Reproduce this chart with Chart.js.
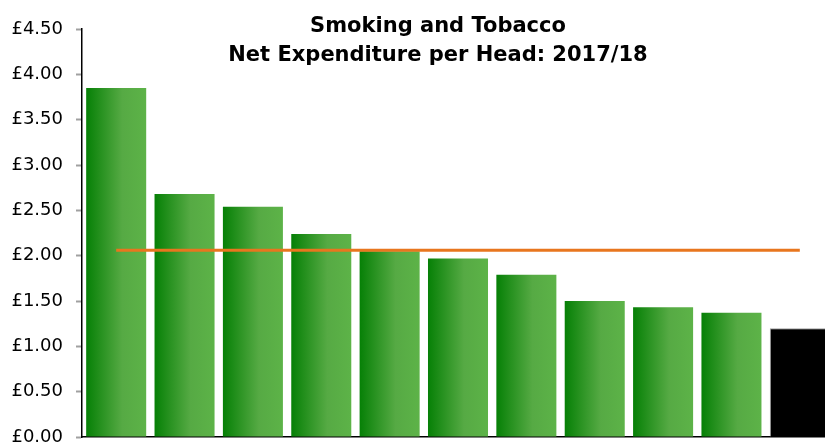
<!DOCTYPE html>
<html>
<head>
<meta charset="utf-8">
<script src="https://cdn.jsdelivr.net/npm/chart.js@4/dist/chart.umd.min.js"></script>
<style>
  html, body { margin: 0; padding: 0; background: #fff; overflow: hidden; }
  #wrap { width: 834px; height: 444px; position: relative; }
</style>
</head>
<body>
<div id="wrap"><canvas id="chart"></canvas></div>
<script>
// datos
const categorias = ["A", "B", "C", "D", "E", "F", "G", "H", "I", "J", "K"];
const gastoPorCabeza = [3.85, 2.68, 2.54, 2.24, 2.05, 1.97, 1.79, 1.50, 1.43, 1.37, 1.20];
const promedio = 2.06;
const tituloLineas = ["Smoking and Tobacco", "Net Expenditure per Head: 2017/18"];

const FONT = "'DejaVu Sans', Verdana, sans-serif";

// degradado horizontal por barra (verde oscuro -> verde claro); la última negra
function colorBarra(ctx) {
    const i = ctx.dataIndex;
    if (i === gastoPorCabeza.length - 1) return "#000000";
    const chart = ctx.chart;
    const x = chart.scales.x;
    if (!x || x.width === undefined) return "#2f9a2a";
    const ancho = (x.width / categorias.length) * 0.878;
    const cx = x.getPixelForValue(i);
    const g = chart.ctx.createLinearGradient(cx - ancho / 2, 0, cx + ancho / 2, 0);
    g.addColorStop(0, "#068006");
    g.addColorStop(0.6, "#56aa44");
    g.addColorStop(1, "#5db348");
    return g;
}

// título dibujado encima del área del gráfico
const tituloPlugin = {
    id: "tituloPlugin",
    afterDraw(chart) {
        const c = chart.ctx;
        c.save();
        c.fillStyle = "#000";
        c.font = "bold 21px " + FONT;
        c.textAlign = "center";
        c.textBaseline = "alphabetic";
        c.fillText(tituloLineas[0], 438, 32);
        c.fillText(tituloLineas[1], 438, 61);
        c.restore();
    }
};

new Chart(document.getElementById("chart"), {
    data: {
        labels: categorias,
        datasets: [
            {
                type: "line",
                label: "Promedio",
                data: categorias.map(() => promedio),
                borderColor: "#e8761e",
                borderWidth: 3,
                pointRadius: 0,
                fill: false,
                order: 0
            },
            {
                type: "bar",
                label: "Gasto",
                data: gastoPorCabeza,
                backgroundColor: colorBarra,
                borderColor: gastoPorCabeza.map((_, i) => i === gastoPorCabeza.length - 1 ? "#a0a0a0" : "rgba(0,0,0,0)"),
                borderWidth: gastoPorCabeza.map((_, i) => i === gastoPorCabeza.length - 1 ? 1 : 0),
                borderSkipped: "bottom",
                barPercentage: 0.878,
                categoryPercentage: 1,
                order: 1
            }
        ]
    },
    options: {
        responsive: true,
        maintainAspectRatio: false,
        animation: false,
        layout: { padding: { top: 29, right: 0, bottom: 7, left: 0 } },
        plugins: {
            legend: { display: false },
            title: { display: false },
            tooltip: { enabled: false }
        },
        scales: {
            x: {
                afterFit(scale) { scale.height = 0; scale.paddingLeft = 0; scale.paddingRight = 0; },
                ticks: { display: false },
                grid: { display: false, drawTicks: false },
                border: { display: true, color: "#000", width: 1.5 }
            },
            y: {
                min: 0,
                max: 4.5,
                afterFit(scale) {
                    scale.width = 82;
                    scale.paddingTop = 0;
                    scale.paddingBottom = 0;
                },
                ticks: {
                    stepSize: 0.5,
                    padding: 13,
                    color: "#000",
                    font: { family: FONT, size: 18 },
                    callback: (v) => "£" + Number(v).toFixed(2)
                },
                grid: {
                    drawOnChartArea: false,
                    drawTicks: true,
                    tickLength: 6,
                    tickColor: "#a0a0a0",
                    tickWidth: 2
                },
                border: { display: true, color: "#000", width: 1.5 }
            }
        }
    },
    plugins: [tituloPlugin]
});
</script>
</body>
</html>
